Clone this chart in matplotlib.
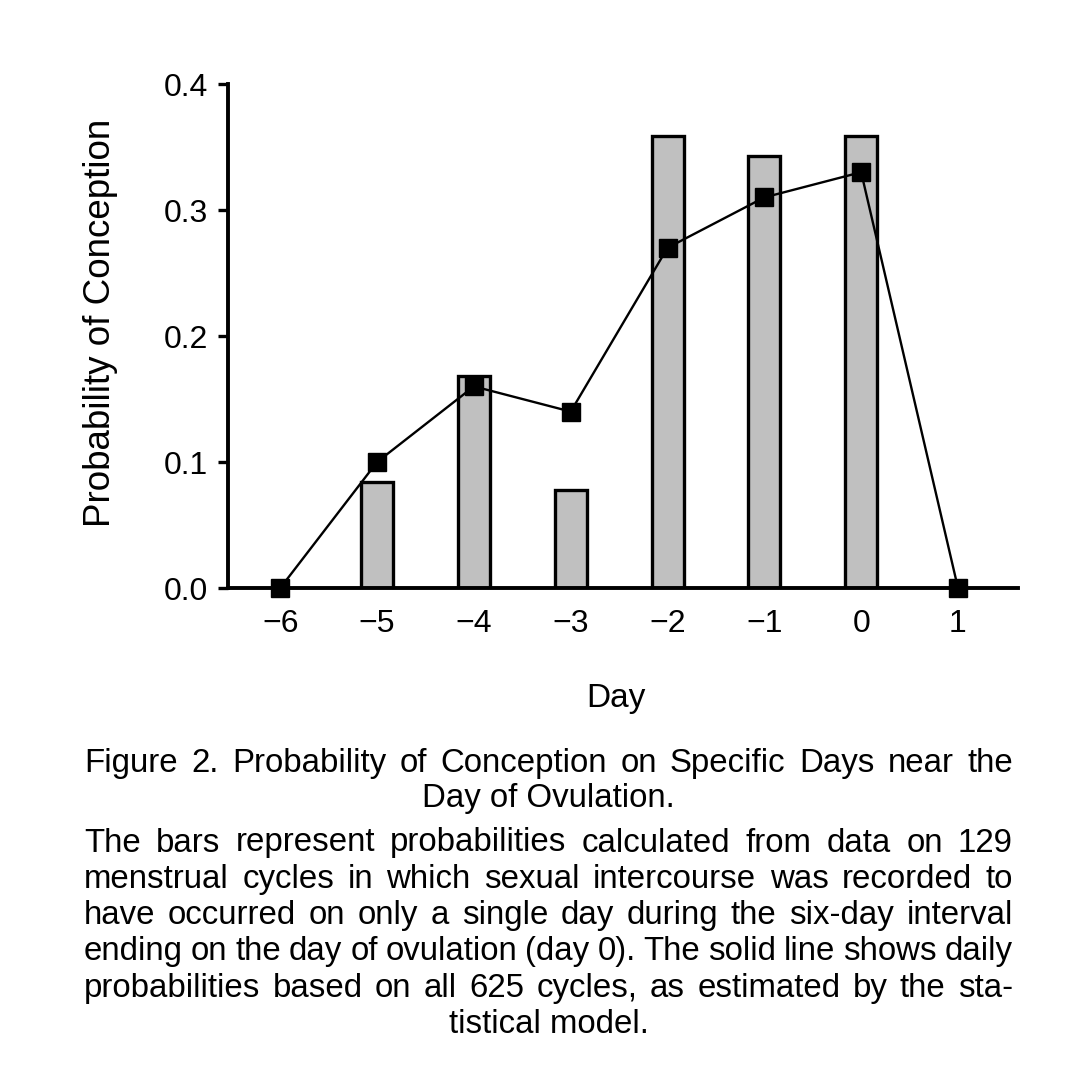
import numpy as np
import matplotlib
matplotlib.use("Agg")
import matplotlib.pyplot as plt

# ---------------- data
bar_days = [-5, -4, -3, -2, -1, 0]
bar_prob = [0.084, 0.168, 0.078, 0.359, 0.343, 0.359]   # 129 single-intercourse cycles

line_days = [-6, -5, -4, -3, -2, -1, 0, 1]
line_prob = [0.0, 0.10, 0.16, 0.14, 0.27, 0.31, 0.33, 0.0]  # model, all 625 cycles

xticks = [-6, -5, -4, -3, -2, -1, 0, 1]
yticks = [0.0, 0.1, 0.2, 0.3, 0.4]
ytick_labels = ["0.0", "0.1", "0.2", "0.3", "0.4"]

title_lines = ["Figure 2. Probability of Conception on Specific Days near the",
               "Day of Ovulation."]
body_lines = ["The bars represent probabilities calculated from data on 129",
              "menstrual cycles in which sexual intercourse was recorded to",
              "have occurred on only a single day during the six-day interval",
              "ending on the day of ovulation (day 0). The solid line shows daily",
              "probabilities based on all 625 cycles, as estimated by the sta-",
              "tistical model."]

plt.rcParams['font.family'] = ['Liberation Sans', 'DejaVu Sans']

W, H = 1070, 1088
fig = plt.figure(figsize=(W / 100, H / 100), dpi=100)
ax = fig.add_axes([228 / W, 1 - 588 / H, 790 / W, 504 / H])

ax.bar(bar_days, bar_prob, width=0.33, color='#c0c0c0', edgecolor='black',
       linewidth=2.4, zorder=2)
ax.plot(line_days, line_prob, color='black', linewidth=1.7, marker='s',
        markersize=13.5, markerfacecolor='black', markeredgewidth=1,
        zorder=4, clip_on=False)

ax.set_xlim(-6.54, 1.62)
ax.set_ylim(0, 0.4)
ax.set_xticks(xticks)
ax.set_yticks(yticks)
ax.set_yticklabels(ytick_labels)

for s in ['top', 'right']:
    ax.spines[s].set_visible(False)
for s in ['left', 'bottom']:
    ax.spines[s].set_linewidth(2.8)

ax.tick_params(axis='y', direction='out', length=7.5, width=2.4, pad=7, labelsize=23)
ax.tick_params(axis='x', length=0, pad=15, labelsize=23)

ax.set_ylabel("Probability of Conception", fontsize=26.5, va='center')
ax.yaxis.set_label_coords(-0.161, 0.526)
ax.set_xlabel("Day", fontsize=24, va='baseline')
ax.xaxis.set_label_coords(0.491, -0.2355)

# ---------------- caption, justified like the printed page
x0, x1 = 84, 1013
cap_size = 23.8
renderer = fig.canvas.get_renderer()


def put_line(text, base_px, justify):
    if not justify:
        fig.text((x0 + x1) / 2 / W, 1 - base_px / H, text, fontsize=cap_size,
                 ha='center', va='baseline')
        return
    words = text.split(' ')
    objs = [fig.text(0, 1 - base_px / H, w, fontsize=cap_size, ha='left',
                     va='baseline') for w in words]
    widths = [o.get_window_extent(renderer).width for o in objs]
    gap = (x1 - x0 - sum(widths)) / (len(words) - 1)
    x = x0
    for o, w in zip(objs, widths):
        o.set_x(x / W)
        x += w + gap


put_line(title_lines[0], 772, True)
put_line(title_lines[1], 807, False)
for i, line in enumerate(body_lines):
    put_line(line, 851.5 + 36.3 * i, i < len(body_lines) - 1)

fig.savefig("out.png", dpi=100)
